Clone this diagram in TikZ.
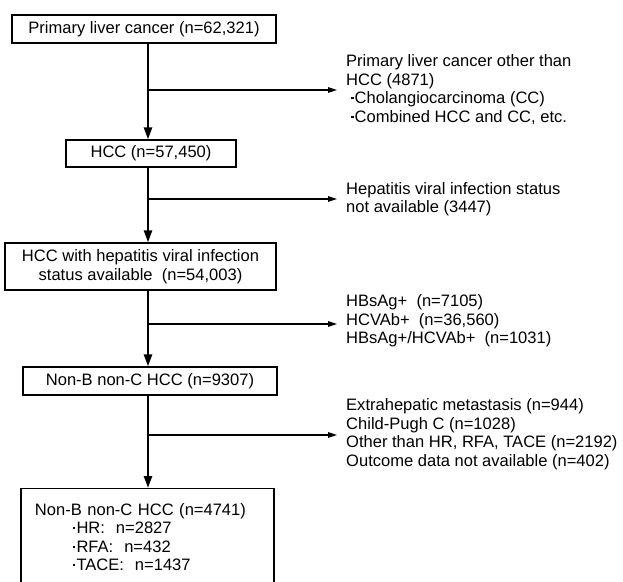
\documentclass[tikz,border=0pt]{standalone}
\usepackage{fontspec}
\setmainfont{Liberation Sans}
\usetikzlibrary{arrows.meta}
\newcommand\mybul{\rule[0.5ex]{2.3bp}{2.3bp}\hspace{1.2bp}}
\begin{document}
\begin{tikzpicture}[x=1bp,y=-1bp,
  every node/.style={font=\fontsize{16.6}{18.6}\selectfont},
  box/.style={draw, line width=1.2bp, inner sep=0pt, align=center},
  note/.style={anchor=west, inner sep=0pt, align=left},
  spine/.style={line width=2.4bp, -{Triangle[length=12bp,width=8bp]}},
  branch/.style={line width=1.2bp, -{Triangle[length=9bp,width=5.5bp]}, shorten >=9bp}
]
\useasboundingbox (0,0) rectangle (623,582);
% boxes
\node[box, minimum width=264bp, minimum height=28bp] (b1) at (144,29) {Primary liver cancer (n=62,321)};
\node[box, minimum width=170bp, minimum height=27bp] (b2) at (151,153.5) {HCC (n=57,450)};
\node[box, minimum width=271bp, minimum height=47bp] (b3) at (140.5,266.5) {HCC with hepatitis viral infection\\status available \ (n=54,003)};
\node[box, minimum width=254bp, minimum height=28bp] (b4) at (150,381) {Non-B non-C HCC (n=9307)};
\node[box, anchor=north, text width=225bp, inner xsep=14bp, minimum width=253bp, minimum height=97bp, align=left] (b5) at (147.5,488) {Non-B non-C HCC (n=4741)\\\hspace*{38bp}\mybul HR: \ n=2827\\\hspace*{38bp}\mybul RFA: \ n=432\\\hspace*{38bp}\mybul TACE: \ n=1437};
% side notes
\node[note] (t1) at (346,89.5) {Primary liver cancer other than\\HCC (4871)\\\hspace*{5bp}\mybul Cholangiocarcinoma (CC)\\\hspace*{5bp}\mybul Combined HCC and CC, etc.};
\node[note] (t2) at (346,199) {Hepatitis viral infection status\\not available (3447)};
\node[note] (t3) at (346,321) {HBsAg+ \ (n=7105)\\HCVAb+ \ (n=36,560)\\HBsAg+/HCVAb+ \ (n=1031)};
\node[note] (t4) at (346,434) {Extrahepatic metastasis (n=944)\\Child-Pugh C (n=1028)\\Other than HR, RFA, TACE (n=2192)\\Outcome data not available (n=402)};
% spine
\coordinate (sp) at (148,0);
\draw[spine] (b1.south -| sp) -- (b2.north -| sp);
\draw[spine] (b2.south -| sp) -- (b3.north -| sp);
\draw[spine] (b3.south -| sp) -- (b4.north -| sp);
\draw[spine] (b4.south -| sp) -- (b5.north -| sp);
% branches
\coordinate (j1) at (148,90);
\coordinate (j2) at (148,199);
\coordinate (j3) at (148,324);
\coordinate (j4) at (148,435);
\draw[branch] (j1) -- (j1 -| t1.west);
\draw[branch] (j2) -- (j2 -| t2.west);
\draw[branch] (j3) -- (j3 -| t3.west);
\draw[branch] (j4) -- (j4 -| t4.west);
\end{tikzpicture}
\end{document}
